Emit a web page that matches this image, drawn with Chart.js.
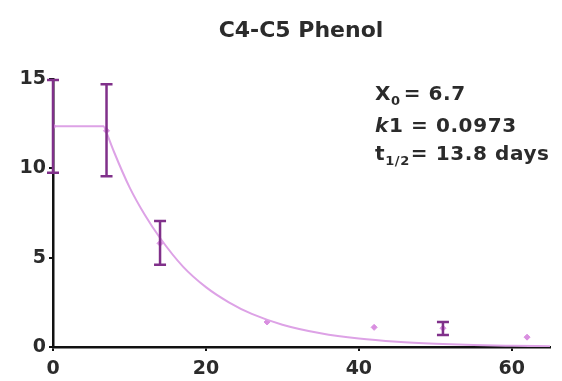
<!DOCTYPE html>
<html>
<head>
<meta charset="utf-8">
<script src="https://cdn.jsdelivr.net/npm/chart.js@4"></script>
<style>
  html,body{margin:0;padding:0;background:#fff;}
  #wrap{width:562px;height:381px;position:relative;}
</style>
</head>
<body>
<div id="wrap"><canvas id="c" width="562" height="381"></canvas></div>
<script>
// measured days and concentration (mean, lower / upper error)
const days = [0, 7, 14, 28, 42, 51, 62];
const means = [12.35, 12.1, 5.8, 1.4, 1.1, 1.05, 0.55];
const errLow = [9.75, 9.55, 4.6, 1.3, 1.05, 0.67, 0.5];
const errHigh = [14.95, 14.7, 7.05, 1.5, 1.15, 1.4, 0.6];

// fitted curve: plateau up to X0, then first-order decay
const plateauX = [0, 6.7];
const plateauY = [12.35, 12.35];
const decayX = [6.7, 8, 10, 12, 14, 17, 20, 23, 26, 30, 35, 40, 45, 50, 55, 60, 65];
const decayY = [12.35, 10.9, 8.95, 7.4, 6.1, 4.5, 3.35, 2.5, 1.85, 1.25, 0.77, 0.47, 0.29, 0.18, 0.11, 0.07, 0.04];

const xTicks = [0, 20, 40, 60];
const yTicks = [0, 5, 10, 15];

const curveColor = '#dda2e6';
const barColor = '#80308a';
const font = '"DejaVu Sans", sans-serif';

function pts(xs, ys){ return xs.map((x,i)=>({x:x, y:ys[i]})); }

// error bars with caps, drawn from the data arrays
const errorBars = {
  id: 'errorBars',
  afterDatasetsDraw(chart){
    const {ctx, scales:{x, y}} = chart;
    ctx.save();
    ctx.strokeStyle = barColor;
    ctx.lineWidth = 2.5;
    days.forEach((d,i)=>{
      if(errHigh[i]-errLow[i] < 0.25) return;
      const px = x.getPixelForValue(d);
      const lo = y.getPixelForValue(errLow[i]);
      const hi = y.getPixelForValue(errHigh[i]);
      ctx.beginPath();
      ctx.moveTo(px, lo); ctx.lineTo(px, hi);
      ctx.moveTo(px-6, lo); ctx.lineTo(px+6, lo);
      ctx.moveTo(px-6, hi); ctx.lineTo(px+6, hi);
      ctx.stroke();
    });
    ctx.restore();
  }
};

// title and fit parameters
const labels = {
  id: 'labels',
  afterDraw(chart){
    const ctx = chart.ctx;
    ctx.save();
    ctx.fillStyle = '#2b2b2b';
    ctx.textBaseline = 'alphabetic';
    ctx.textAlign = 'center';
    ctx.font = 'bold 22px ' + font;
    ctx.fillText('C4-C5 Phenol', 301, 37);

    ctx.textAlign = 'left';
    ctx.letterSpacing = '0.6px';
    const big = 'bold 20px ' + font, small = 'bold 13px ' + font;
    let xx = 375;
    ctx.font = big; ctx.fillText('X', xx, 100); xx += ctx.measureText('X').width;
    ctx.font = small; ctx.fillText('0', xx, 105); xx += ctx.measureText('0').width + 3;
    ctx.font = big; ctx.fillText('= 6.7', xx, 100);

    xx = 375;
    ctx.font = 'bold oblique 20px ' + font; ctx.fillText('k', xx, 132); xx += ctx.measureText('k').width;
    ctx.font = big; ctx.fillText('1 = 0.0973', xx, 132);

    xx = 375;
    ctx.font = big; ctx.fillText('t', xx, 160); xx += ctx.measureText('t').width;
    ctx.font = small; ctx.fillText('1/2', xx, 165); xx += ctx.measureText('1/2').width + 1;
    ctx.font = big; ctx.fillText('= 13.8 days', xx, 160);
    ctx.restore();
  }
};

new Chart(document.getElementById('c'), {
  type: 'scatter',
  data: {
    datasets: [
      { data: pts(plateauX, plateauY), showLine: true, borderColor: curveColor, borderWidth: 2, pointRadius: 0, tension: 0 },
      { data: pts(decayX, decayY), showLine: true, borderColor: curveColor, borderWidth: 2, pointRadius: 0, cubicInterpolationMode: 'monotone' },
      { data: pts(days, means), showLine: false, pointRadius: 3, pointStyle: 'rectRot', backgroundColor: '#d98fe0', borderColor: '#d98fe0', borderWidth: 1 }
    ]
  },
  options: {
    responsive: false,
    animation: false,
    layout: { padding: { top: 79, right: 12, left: 0, bottom: 0 } },
    plugins: { legend: { display: false }, tooltip: { enabled: false } },
    scales: {
      x: {
        type: 'linear', min: 0, max: 65,
        afterFit: s => { s.height = 34; },
        afterBuildTicks: s => { s.ticks = xTicks.map(v => ({value: v})); },
        grid: { drawOnChartArea: false, drawTicks: true, tickLength: 4, color: '#111', lineWidth: 2 },
        border: { display: true, color: '#111', width: 2.5 },
        ticks: { color: '#2b2b2b', font: { family: font, size: 19, weight: 'bold' }, padding: 7, maxRotation: 0 }
      },
      y: {
        type: 'linear', min: 0, max: 15,
        afterFit: s => { s.width = 53; },
        afterBuildTicks: s => { s.ticks = yTicks.map(v => ({value: v})); },
        grid: { drawOnChartArea: false, drawTicks: true, tickLength: 4, color: '#111', lineWidth: 2 },
        border: { display: true, color: '#111', width: 2.5 },
        ticks: { color: '#2b2b2b', font: { family: font, size: 19, weight: 'bold' }, padding: 3 }
      }
    }
  },
  plugins: [errorBars, labels]
});
</script>
</body>
</html>
